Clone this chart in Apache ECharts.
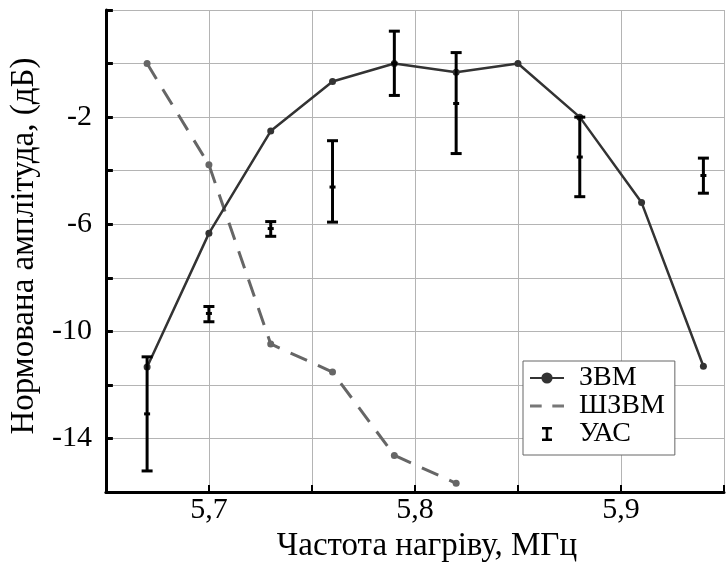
<!DOCTYPE html>
<html>
<head>
<meta charset="utf-8">
<script src="https://cdn.jsdelivr.net/npm/echarts@6/dist/echarts.min.js"></script>
<style>
  html, body { margin: 0; padding: 0; background: #fff; }
  #chart { width: 727px; height: 568px; }
</style>
</head>
<body>
<div id="chart"></div>
<script>
// 数据
let freq = [5.67, 5.70, 5.73, 5.76, 5.79, 5.82, 5.85, 5.88, 5.91, 5.94]
let zvm = [-11.33, -6.34, -2.52, -0.67, 0, -0.32, 0, -2, -5.19, -11.3]

let shzvmFreq = [5.67, 5.70, 5.73, 5.76, 5.79, 5.82]
let shzvm = [0, -3.78, -10.47, -11.52, -14.63, -15.67]

let uasFreq = [5.67, 5.70, 5.73, 5.76, 5.79, 5.82, 5.88, 5.94]
let uasMid = [-13.08, -9.33, -6.16, -4.61, 0, -1.49, -3.49, -4.18]
let uasLow = [-15.21, -9.64, -6.45, -5.92, -1.19, -3.36, -4.97, -4.84]
let uasHigh = [-10.95, -9.07, -5.90, -2.88, 1.21, 0.41, -2, -3.53]

let xLabels = [5.7, 5.8, 5.9]
let yLabels = [-2, -6, -10, -14]

let font = 'Liberation Serif'

let zip = function (xs, ys) {
  return xs.map((x, i) => [x, ys[i]])
}

// 误差线
let renderErrorBar = function (params, api) {
  let x = api.value(0)
  let p = api.coord([x, api.value(1)])
  let lo = api.coord([x, api.value(2)])
  let hi = api.coord([x, api.value(3)])
  let style = {stroke: '#000', lineWidth: 3}
  return {
    type: 'group',
    children: [
      {type: 'line', shape: {x1: lo[0], y1: lo[1], x2: hi[0], y2: hi[1]}, style: style},
      {type: 'line', shape: {x1: lo[0] - 5.5, y1: lo[1], x2: lo[0] + 5.5, y2: lo[1]}, style: style},
      {type: 'line', shape: {x1: hi[0] - 5.5, y1: hi[1], x2: hi[0] + 5.5, y2: hi[1]}, style: style},
      {type: 'line', shape: {x1: p[0] - 3, y1: p[1], x2: p[0] + 3, y2: p[1]}, style: style}
    ]
  }
}

let chartOption = {
  animation: false,
  backgroundColor: '#fff',
  grid: {left: 101.5, right: -3.6, top: 10, bottom: 62.5},
  legend: {
    orient: 'vertical',
    left: 523,
    top: 361,
    padding: [3, 10, 7, 6],
    itemGap: 0,
    itemWidth: 34,
    itemHeight: 14,
    backgroundColor: '#fff',
    borderColor: '#666',
    borderWidth: 1,
    textStyle: {fontFamily: font, fontSize: 28, lineHeight: 26, color: '#000', padding: [0, 0, 0, 10]},
    data: [
      {name: 'ЗВМ'},
      {name: 'ШЗВМ', icon: 'path://M0,0H11V3H0Z M21,0H32V3H21Z', itemStyle: {color: '#777'}},
      {name: 'УАС', icon: 'path://M0,0H10V2.5H6.3V11.5H10V14H0V11.5H3.7V2.5H0Z'}
    ]
  },
  xAxis: {
    type: 'value',
    min: 5.65,
    max: 5.95,
    interval: 0.05,
    name: 'Частота нагріву, МГц',
    nameLocation: 'middle',
    nameGap: 26,
    nameTextStyle: {fontFamily: font, fontSize: 33, color: '#000', padding: [0, 0, 0, 24]},
    axisLine: {show: true, onZero: false, lineStyle: {color: '#000', width: 3}},
    axisTick: {show: true, inside: true, length: 7, lineStyle: {color: '#000', width: 2}},
    axisLabel: {
      fontFamily: font,
      fontSize: 30,
      color: '#000',
      margin: 3,
      formatter: function (v) {
        let hit = xLabels.some(t => Math.abs(t - v) < 1e-6)
        return hit ? v.toFixed(1).replace('.', ',') : ''
      }
    },
    splitLine: {show: true, lineStyle: {color: '#b4b4b4', width: 1}}
  },
  yAxis: {
    type: 'value',
    min: -16,
    max: 2,
    interval: 2,
    name: 'Нормована амплітуда, (дБ)',
    nameLocation: 'middle',
    nameGap: 56,
    nameTextStyle: {fontFamily: font, fontSize: 33, color: '#000', padding: [0, 0, 0, 10]},
    axisLine: {show: true, onZero: false, lineStyle: {color: '#000', width: 3}},
    axisTick: {show: true, inside: true, length: 7, lineStyle: {color: '#000', width: 3}},
    axisLabel: {
      fontFamily: font,
      fontSize: 30,
      color: '#000',
      margin: 14,
      formatter: function (v) {
        return yLabels.indexOf(v) >= 0 ? String(v) : ''
      }
    },
    splitLine: {show: true, lineStyle: {color: '#b4b4b4', width: 1}}
  },
  series: [
    {
      name: 'ЗВМ',
      type: 'line',
      data: zip(freq, zvm),
      symbol: 'circle',
      symbolSize: 7,
      itemStyle: {color: '#333'},
      lineStyle: {color: '#333', width: 2.5},
      z: 3
    },
    {
      name: 'ШЗВМ',
      type: 'line',
      data: zip(shzvmFreq, shzvm),
      symbol: 'circle',
      symbolSize: 7,
      itemStyle: {color: '#666'},
      lineStyle: {color: '#666', width: 3, type: [18, 12]},
      z: 2
    },
    {
      name: 'УАС',
      type: 'custom',
      renderItem: renderErrorBar,
      itemStyle: {color: '#000'},
      data: uasFreq.map((x, i) => [x, uasMid[i], uasLow[i], uasHigh[i]]),
      z: 4
    }
  ]
}

// 初始化
let el = document.querySelector('#chart')
let chartInstance = echarts.init(el)
chartInstance.setOption(chartOption)
</script>
</body>
</html>
